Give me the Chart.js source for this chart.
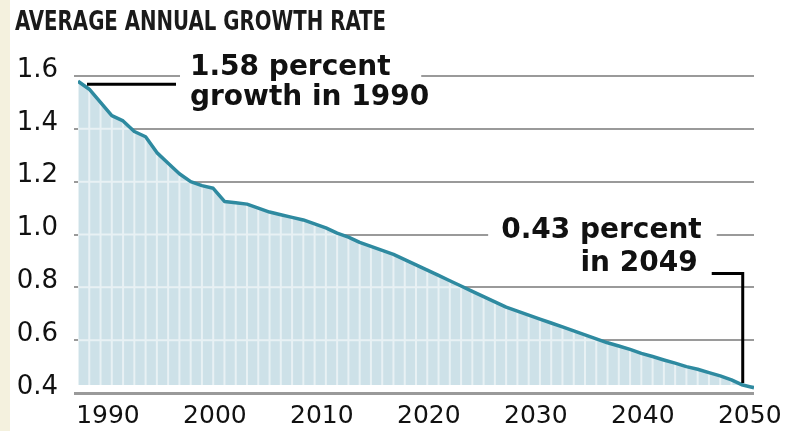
<!DOCTYPE html>
<html>
<head>
<meta charset="utf-8">
<title>Average annual growth rate</title>
<script src="https://cdn.jsdelivr.net/npm/chart.js"></script>
<style>
  html, body { margin: 0; padding: 0; background: #fff; }
  #wrap { width: 792px; height: 431px; background: #f4f1de; overflow: hidden; }
  #box { position: relative; margin-left: 10px; width: 782px; height: 431px; background: #fff; }
  #title {
    position: absolute; left: 5px; top: 8px; margin: 0;
    font: bold 26px/26px "DejaVu Sans Condensed", "DejaVu Sans", sans-serif;
    color: #1a1a1a; white-space: nowrap;
    transform: scaleX(0.845); transform-origin: 0 0;
  }
</style>
</head>
<body>
<div id="wrap"><div id="box">
  <h1 id="title">AVERAGE ANNUAL GROWTH RATE</h1>
  <canvas id="growthChart"></canvas>
</div></div>
<script>
var years = [
    1990, 1991, 1992, 1993, 1994, 1995, 1996, 1997, 1998, 1999,
    2000, 2001, 2002, 2003, 2004, 2005, 2006, 2007, 2008, 2009,
    2010, 2011, 2012, 2013, 2014, 2015, 2016, 2017, 2018, 2019,
    2020, 2021, 2022, 2023, 2024, 2025, 2026, 2027, 2028, 2029,
    2030, 2031, 2032, 2033, 2034, 2035, 2036, 2037, 2038, 2039,
    2040, 2041, 2042, 2043, 2044, 2045, 2046, 2047, 2048, 2049,
    2050
];

// average annual growth rate, percent
var growthRate = [
    1.58, 1.55, 1.50, 1.45, 1.43, 1.39, 1.37, 1.31, 1.27, 1.23,
    1.20, 1.185, 1.175, 1.125, 1.12, 1.115, 1.10, 1.085, 1.075, 1.065,
    1.055, 1.04, 1.025, 1.005, 0.99, 0.97, 0.955, 0.94, 0.925, 0.905,
    0.885, 0.865, 0.845, 0.825, 0.805, 0.785, 0.765, 0.745, 0.725, 0.71,
    0.695, 0.68, 0.665, 0.65, 0.635, 0.62, 0.605, 0.59, 0.578, 0.565,
    0.55, 0.538, 0.525, 0.513, 0.50, 0.49, 0.477, 0.465, 0.45, 0.43,
    0.42
];

var tickYears = [1990, 2000, 2010, 2020, 2030, 2040, 2050];
var rateTicks = [0.4, 0.6, 0.8, 1.0, 1.2, 1.4, 1.6];

// years called out on the chart
var noteYears = [1990, 2049];

function rateIn(year) {
    return growthRate[years.indexOf(year)];
}

var points = [];
for (var i = 0; i < years.length; i++) {
    points.push({ x: years[i], y: growthRate[i] });
}

// light stripes (one per year) and light grid lines inside the shaded area
var areaTexture = {
    id: 'areaTexture',
    beforeDatasetDraw: function (chart, args) {
        var ctx = chart.ctx, area = chart.chartArea;
        var x = chart.scales.x, y = chart.scales.y;
        var pts = args.meta.data;
        var base = y.getPixelForValue(chart.data.datasets[args.index].fill.value);

        ctx.save();
        ctx.beginPath();
        ctx.moveTo(pts[0].x, base);
        pts.forEach(function (p) { ctx.lineTo(p.x, p.y); });
        ctx.lineTo(pts[pts.length - 1].x, base);
        ctx.closePath();
        ctx.clip();

        ctx.strokeStyle = '#e8f1f4';
        ctx.lineWidth = 2;
        years.forEach(function (yr) {
            var sx = x.getPixelForValue(yr);
            ctx.beginPath();
            ctx.moveTo(sx, area.top);
            ctx.lineTo(sx, base);
            ctx.stroke();
        });
        rateTicks.forEach(function (v) {
            var sy = y.getPixelForValue(v);
            ctx.beginPath();
            ctx.moveTo(area.left, sy);
            ctx.lineTo(area.right, sy);
            ctx.stroke();
        });
        ctx.restore();
    }
};

// callout texts with their leader lines
var callouts = {
    id: 'callouts',
    afterDatasetsDraw: function (chart) {
        var ctx = chart.ctx;
        var x = chart.scales.x, y = chart.scales.y;
        ctx.save();
        ctx.font = 'bold 28px "DejaVu Sans"';
        ctx.textBaseline = 'alphabetic';
        ctx.strokeStyle = '#000';
        ctx.lineWidth = 3;

        // first year: text to the right, sitting on the top grid line
        var y0 = noteYears[0], r0 = rateIn(y0);
        var px = x.getPixelForValue(y0), py = y.getPixelForValue(r0);
        var gridY = y.getPixelForValue(rateTicks[rateTicks.length - 1]);
        var lines = [r0.toFixed(2) + ' percent', 'growth in ' + y0];
        var left = px + 112;
        var w = Math.max(ctx.measureText(lines[0]).width, ctx.measureText(lines[1]).width);
        ctx.fillStyle = '#fff';
        ctx.fillRect(left - 10, gridY - 3, w + 2, 6);
        ctx.beginPath();
        ctx.moveTo(px + 9, py + 3);
        ctx.lineTo(px + 98, py + 3);
        ctx.stroke();
        ctx.fillStyle = '#111';
        ctx.textAlign = 'left';
        ctx.fillText(lines[0], left, gridY - 1);
        ctx.fillText(lines[1], left, gridY + 29);

        // last callout: text to the left, on the 1.0 grid line, leader drops to the point
        var y1 = noteYears[1], r1 = rateIn(y1);
        px = x.getPixelForValue(y1);
        py = y.getPixelForValue(r1);
        gridY = y.getPixelForValue(1.0);
        lines = [r1.toFixed(2) + ' percent', 'in ' + y1];
        var right = px - 41;
        w = Math.max(ctx.measureText(lines[0]).width, ctx.measureText(lines[1]).width);
        ctx.fillStyle = '#fff';
        ctx.fillRect(right - w - 13, gridY - 3, w + 28, 6);
        ctx.fillStyle = '#111';
        ctx.textAlign = 'right';
        ctx.fillText(lines[0], right, gridY + 3);
        ctx.fillText(lines[1], right - 4, gridY + 36);
        ctx.beginPath();
        ctx.moveTo(right + 10, gridY + 39);
        ctx.lineTo(px, gridY + 39);
        ctx.lineTo(px, py - 2);
        ctx.stroke();
        ctx.restore();
    }
};

var chart = new Chart(document.getElementById('growthChart'), {
    type: 'line',
    data: {
        datasets: [{
            data: points,
            borderColor: '#2e8aa0',
            borderWidth: 3.5,
            borderJoinStyle: 'round',
            backgroundColor: '#cde1e8',
            fill: { value: 0.43 },
            pointRadius: 0,
            tension: 0
        }]
    },
    options: {
        responsive: true,
        maintainAspectRatio: false,
        animation: false,
        layout: { padding: { left: 5, right: 38, top: 76, bottom: 0 } },
        plugins: {
            legend: { display: false },
            tooltip: { enabled: false },
            title: { display: false }
        },
        scales: {
            x: {
                type: 'linear',
                display: false,
                min: 1990,
                max: 2050
            },
            // year labels sit on their own axis
            xl: {
                type: 'linear',
                position: 'bottom',
                min: 1987.2,
                max: 2050.4,
                afterBuildTicks: function (axis) {
                    axis.ticks = tickYears.map(function (v) { return { value: v }; });
                },
                afterFit: function (axis) { axis.height = 38; },
                grid: { display: false },
                border: { display: false },
                ticks: {
                    padding: 0,
                    maxRotation: 0,
                    color: '#111',
                    font: { family: '"DejaVu Sans", sans-serif', size: 25 },
                    callback: function (v) { return String(v); }
                }
            },
            y: {
                min: 0.4,
                max: 1.6,
                afterBuildTicks: function (axis) {
                    axis.ticks = rateTicks.map(function (v) { return { value: v }; });
                },
                afterFit: function (axis) { axis.width = 63; },
                border: { display: false },
                grid: {
                    color: '#9a9a9a',
                    lineWidth: function (c) { return c.tick && c.tick.value === 0.4 ? 3 : 2; },
                    tickLength: 4
                },
                ticks: {
                    padding: 16,
                    labelOffset: -6,
                    color: '#111',
                    font: { family: '"DejaVu Sans", sans-serif', size: 26 },
                    callback: function (v) { return v.toFixed(1); }
                }
            }
        }
    },
    plugins: [areaTexture, callouts]
});
</script>
</body>
</html>
